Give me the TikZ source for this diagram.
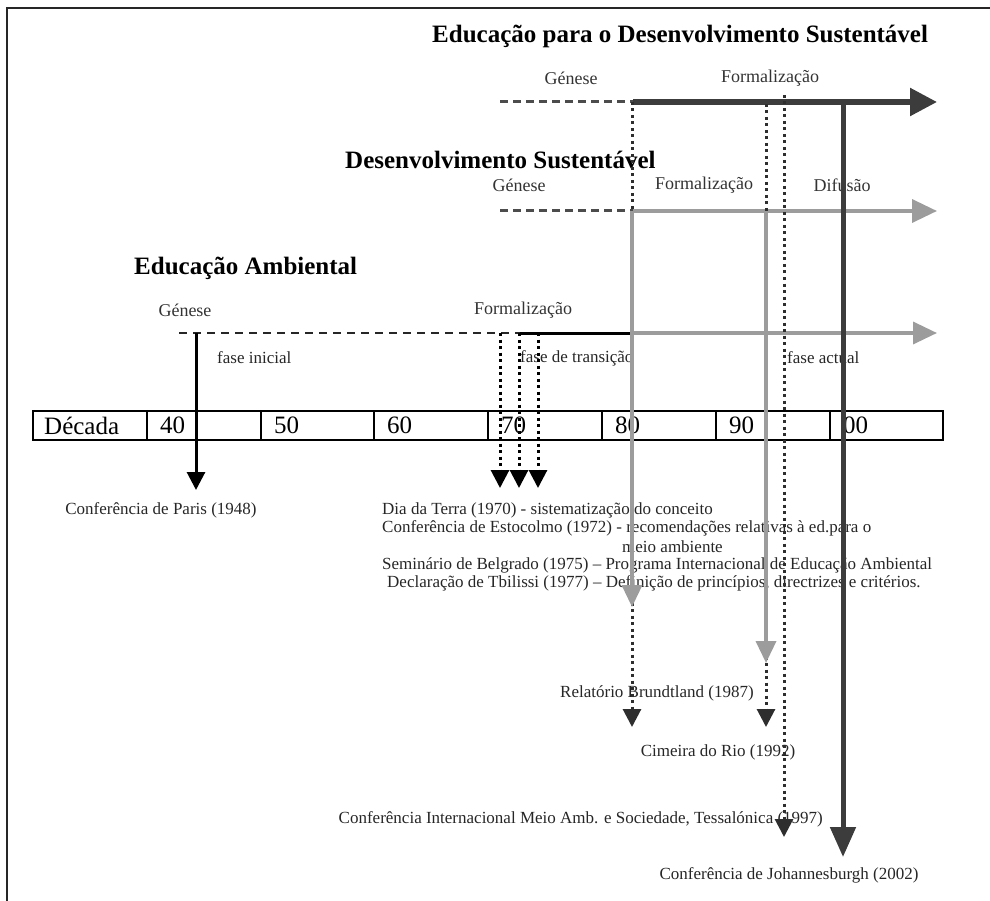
\documentclass[tikz,border=0pt]{standalone}
\usepackage{fontspec}
\setmainfont{Liberation Serif}
\usetikzlibrary{arrows.meta}
\definecolor{escuro}{HTML}{3C3C3C}
\definecolor{cinza}{HTML}{9C9C9C}
\definecolor{ponto}{HTML}{2E2E2E}

\begin{document}
\begin{tikzpicture}[x=1pt,y=-1pt,
  titulo/.style={font=\fontsize{25}{28}\selectfont\bfseries, inner sep=0pt, anchor=west},
  fase/.style={font=\fontsize{18}{20}\selectfont, text=black!80, inner sep=0pt},
  evento/.style={font=\fontsize{17}{20}\selectfont, text=black!85, inner sep=0pt},
  celula/.style={font=\fontsize{25}{28}\selectfont, inner sep=0pt, anchor=west},
  tracejado/.style={dash pattern=on 8pt off 5pt, line width=3pt, color=black!70},
  pontilhado/.style={dash pattern=on 3pt off 3.5pt, line width=3pt, color=ponto,
    -{Triangle[length=18pt,width=18pt]}},
  seta cinza/.style={cinza, line width=3.5pt, -{Triangle[length=22pt,width=20pt]}},
]
  \useasboundingbox (0,0) rectangle (990,901);
  % moldura
  \draw[line width=2.5pt, black!85] (990,8) -- (7,8) -- (7,901);

  % titulos
  \node[titulo] (tEDS) at (432,36) {Educação para o Desenvolvimento Sustentável};
  \node[titulo] (tDS) at (345,160) {Desenvolvimento Sustentável};
  \node[titulo] (tEA) at (134,268) {Educação Ambiental};

  % fases
  \node[fase] (gen1) at (571,78) {Génese};
  \node[fase] (for1) at (770,78) {Formalização};
  \node[fase] (gen2) at (519,185) {Génese};
  \node[fase] (for2) at (704,185) {Formalização};
  \node[fase] (dif2) at (842,185) {Difusão};
  \node[fase] (gen3) at (185,310) {Génese};
  \node[fase] (for3) at (523,310) {Formalização};
  \node[evento, anchor=west] (ini) at (217,358) {fase inicial};
  \node[evento, anchor=west] (tra) at (520,358) {fase de transição};
  \node[evento, anchor=west] (act) at (787,358) {fase actual};

  % acontecimentos
  \node[evento] (paris) at (161,510) {Conferência de Paris (1948)};
  \node[evento, anchor=west] (terra) at (382,510) {Dia da Terra (1970) - sistematização do conceito};
  \node[evento, anchor=west] (estoc) at (382,528) {Conferência de Estocolmo (1972) - recomendações relativas à ed.para o};
  \node[evento, anchor=west] (meio) at (622,547) {meio ambiente};
  \node[evento, anchor=west] (belg) at (382,565) {Seminário de Belgrado (1975) – Programa Internacional de Educação Ambiental};
  \node[evento, anchor=west] (tbil) at (387,583) {Declaração de Tbilissi (1977) – Definição de princípios, directrizes e critérios.};
  \node[evento] (brund) at (657,693) {Relatório Brundtland (1987)};
  \node[evento] (rio) at (718,752) {Cimeira do Rio (1992)};
  \node[evento, anchor=east] (tess) at (823,819) {Conferência Internacional Meio Amb. e Sociedade, Tessalónica (1997)};
  \node[evento] (joha) at (789,875) {Conferência de Johannesburgh (2002)};

  % decadas
  \draw[line width=1.2pt] (33,411) rectangle (943,440);
  \node[celula] (dec) at (44,425.5) {Década};
  \foreach \xc/\ano in {147/40,261/50,374/60,488/70,602/80,716/90,830/00} {
    \draw[line width=1.2pt] (\xc,411) -- (\xc,440);
    \node[celula] (d\ano) at (\xc+13,425.5) {\ano};
  }

  % pontos das linhas
  \coordinate (a1) at (500,102); \coordinate (b1) at (633,102); \coordinate (c1) at (937,102);
  \coordinate (a2) at (500,211); \coordinate (b2) at (633,211); \coordinate (c2) at (937,211);
  \coordinate (a3) at (179,333); \coordinate (m3) at (520,333);
  \coordinate (b3) at (633,333); \coordinate (c3) at (937,333);

  % EDS
  \draw[tracejado] (a1) -- (b1);
  \draw[escuro, line width=5.5pt, -{Triangle[length=27pt,width=27pt]}] (b1) -- (c1);
  % DS
  \draw[tracejado] (a2) -- (b2);
  \draw[seta cinza, -{Triangle[length=25pt,width=23pt]}] (b2) -- (c2);
  % EA
  \draw[dash pattern=on 8pt off 6pt, line width=2pt, black!85] (a3) -- (m3);
  \draw[line width=3pt] (m3) -- (b3);
  \draw[seta cinza, -{Triangle[length=24pt,width=22pt]}] (b3) -- (c3);

  % setas para os acontecimentos
  \coordinate (p0) at (196,333); \coordinate (p1) at (196,490);
  \draw[line width=3pt, -{Triangle[length=18pt,width=18pt]}] (p0) -- (p1);
  \foreach \xv in {500,519,538}
    \draw[pontilhado, black] (\xv,333) -- (\xv,488);

  \coordinate (br0) at (632,102); \coordinate (br1) at (632,607); \coordinate (br2) at (632,727);
  \coordinate (ri0) at (766,104); \coordinate (ri1) at (766,663); \coordinate (ri2) at (766,727);
  \coordinate (te0) at (784,95);  \coordinate (te1) at (784,837);
  \coordinate (jo0) at (843,102); \coordinate (jo1) at (843,857);

  \draw[pontilhado] (br0) -- (br2);
  \draw[seta cinza] (b2 -| br0) -- (br1);
  \draw[pontilhado] (ri0) -- (ri2);
  \draw[seta cinza] (b2 -| ri0) -- (ri1);
  \draw[pontilhado] (te0) -- (te1);
  \draw[escuro, line width=5pt, -{Triangle[length=30pt,width=25pt]}] (jo0) -- (jo1);
\end{tikzpicture}
\end{document}
